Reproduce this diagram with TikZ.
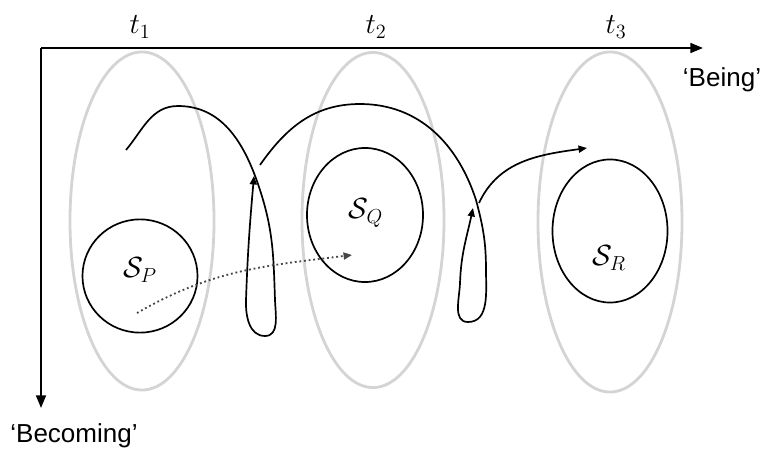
\documentclass[tikz,border=0pt]{standalone}
\usepackage{fontspec}
\newfontfamily\labelfont{Liberation Sans}
\usepackage{amsmath,amssymb}
\usetikzlibrary{positioning, arrows.meta, shapes.geometric}
\definecolor{ringgray}{RGB}{212,212,212}
\definecolor{dotgray}{RGB}{70,70,70}

\begin{document}
\begin{tikzpicture}[
    x=0.025cm, y=0.025cm,
    font=\fontsize{20}{24}\selectfont,
    axis/.style={line width=1.5pt, -{Triangle[length=9pt,width=7pt]}},
    instant/.style={ellipse, draw=ringgray, line width=2pt, inner sep=0pt},
    state/.style={ellipse, draw, line width=1.2pt, inner sep=0pt},
    flow/.style={line width=1.2pt, -{Triangle[length=6pt,width=5pt]}},
    drift/.style={line width=1.3pt, dotted, dotgray, -{Triangle[length=6pt,width=5pt]}},
    axislabel/.style={font=\labelfont\fontsize{18.5}{22}\selectfont},
  ]
    \useasboundingbox (0,0) rectangle (762,-453);
    % time slices
    \node[instant, minimum width=3.6cm, minimum height=8.45cm] (slice1) at (142,-221) {};
    \node[instant, minimum width=3.55cm, minimum height=8.375cm] (slice2) at (373,-220) {};
    \node[instant, minimum width=3.6cm, minimum height=8.5cm] (slice3) at (610,-222) {};
    % axes
    \coordinate (origin) at (41,-48);
    \coordinate (beingend) at (703,-48);
    \coordinate (becomingend) at (41,-408);
    \draw[axis] (origin) -- (beingend);
    \draw[axis] (origin) -- (becomingend);
    \node (t1) at (140,-27) {$t_1$};
    \node (t2) at (376,-27) {$t_2$};
    \node (t3) at (616,-27) {$t_3$};
    \node[axislabel] (being) at (722,-80) {‘Being’};
    \node[axislabel] (becoming) at (74,-436) {‘Becoming’};
    % states
    \node[state, minimum width=2.875cm, minimum height=2.83cm] (sP) at (140,-276) {};
    \node[state, minimum width=2.9cm, minimum height=3.35cm] (sQ) at (365,-215) {};
    \node[state, minimum width=2.875cm, minimum height=3.575cm] (sR) at (610,-231) {};
    \node (lP) at (140,-270) {$\mathcal{S}_P$};
    \node (lQ) at (366,-213) {$\mathcal{S}_Q$};
    \node (lR) at (609,-258) {$\mathcal{S}_R$};
    % becoming loops
    \coordinate (loopAstart) at (126,-150);
    \coordinate (loopAend) at (254,-176);
    \coordinate (loopBstart) at (260,-165);
    \coordinate (loopBend) at (473,-208);
    \coordinate (jumpstart) at (479,-203);
    \coordinate (jumpend) at (587,-148);
    \coordinate (driftstart) at (137,-313);
    \coordinate (driftend) at (352,-255);
    \draw[flow] (loopAstart) to[out=50,in=180] (178,-106)
      to[out=0,in=108] (260,-190) to[out=-72,in=92] (275,-300)
      to[out=-88,in=0] (265,-336) to[out=180,in=-92] (246,-300)
      to[out=88,in=-95] (loopAend);
    \draw[flow] (loopBstart) to[out=55,in=180] (360,-104)
      to[out=0,in=108] (476,-200) to[out=-75,in=90] (486,-270)
      to[out=-90,in=0] (468,-322) to[out=180,in=-92] (460,-283)
      to[out=88,in=-102] (loopBend);
    \draw[flow] (jumpstart) to[out=65,in=188] (jumpend);
    \draw[drift] (driftstart) to[out=30,in=187] (driftend);
  \end{tikzpicture}
\end{document}
